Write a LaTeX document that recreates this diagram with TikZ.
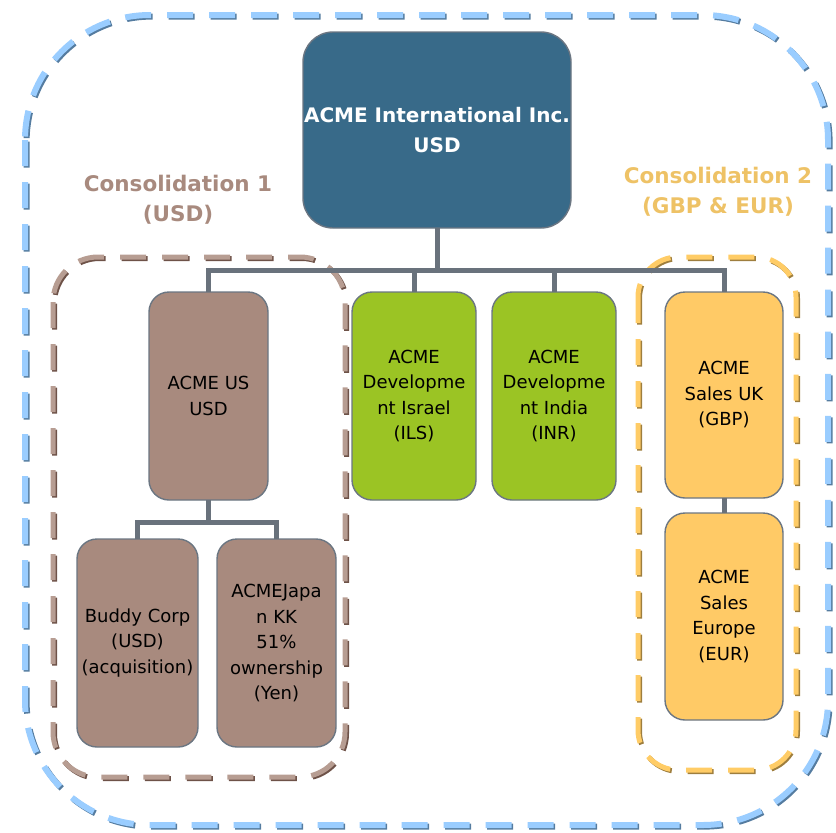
\documentclass[tikz,border=0pt]{standalone}
\usepackage{fontspec}
\setmainfont{DejaVu Sans}
\begin{document}
\begin{tikzpicture}[x=1pt,y=-1pt,
  box/.style={draw=boxline,line width=1.4pt,rounded corners=20pt,align=center,
    inner sep=0pt,outer sep=0pt,font=\fontsize{18}{25.5}\selectfont},
  brownbox/.style={box,fill=brownfill},
  greenbox/.style={box,fill=greenfill},
  orangebox/.style={box,fill=orangefill},
  conn/.style={draw=connline,line width=5pt},
  dashlight/.style={line width=#1,dash pattern=on 26pt off 16pt},
  constext/.style={font=\bfseries\fontsize{21.5}{30}\selectfont,align=center}
]
\definecolor{topfill}{HTML}{386A89}
\definecolor{brownfill}{HTML}{A88A7E}
\definecolor{greenfill}{HTML}{9BC424}
\definecolor{orangefill}{HTML}{FFCA66}
\definecolor{boxline}{HTML}{6B7682}
\definecolor{connline}{HTML}{69727C}
\definecolor{bluelight}{HTML}{9ACDFF}
\definecolor{bluedark}{HTML}{557CA0}
\definecolor{brownlight}{HTML}{B79D92}
\definecolor{browndark}{HTML}{6E5248}
\definecolor{orangelight}{HTML}{FFCC66}
\definecolor{orangedark}{HTML}{9E7E3E}
\definecolor{cons2}{HTML}{EEC266}

\useasboundingbox (0,0) rectangle (836,833);

% outer blue dashed region
\draw[dashlight=6pt,bluedark,rounded corners=125pt,shift={(1.6,1.6)}] (25,15) rectangle (828,825);
\draw[dashlight=6pt,bluelight,rounded corners=125pt] (25,15) rectangle (828,825);
% brown dashed region
\draw[dashlight=5pt,browndark,rounded corners=45pt,shift={(1.5,1.5)}] (53,257) rectangle (345,777);
\draw[dashlight=5pt,brownlight,rounded corners=45pt] (53,257) rectangle (345,777);
% orange dashed region
\draw[dashlight=5pt,orangedark,rounded corners=40pt,shift={(1.5,1.5)}] (638,257) rectangle (796,770);
\draw[dashlight=5pt,orangelight,rounded corners=40pt] (638,257) rectangle (796,770);

% labels
\node[constext,text=brownfill] (c1) at (178,200) {Consolidation 1\\(USD)};
\node[constext,text=cons2] (c2) at (718,192) {Consolidation 2\\(GBP \& EUR)};

% boxes
\node[box,fill=topfill,rounded corners=30pt,minimum width=268pt,minimum height=196pt,
  text=white,font=\bfseries\fontsize{20}{30}\selectfont] (top) at (437,130) {ACME International Inc.\\USD};
\node[brownbox,minimum width=119pt,minimum height=208pt] (us) at (208.5,396) {ACME US\\USD};
\node[greenbox,minimum width=124pt,minimum height=208pt] (isr) at (414,396) {ACME\\Developme\\nt Israel\\(ILS)};
\node[greenbox,minimum width=124pt,minimum height=208pt] (ind) at (554,396) {ACME\\Developme\\nt India\\(INR)};
\node[orangebox,minimum width=118pt,minimum height=206pt] (uk) at (724,395) {ACME\\Sales UK\\(GBP)};
\node[orangebox,minimum width=118pt,minimum height=207pt] (eu) at (724,616.5) {ACME\\Sales\\Europe\\(EUR)};
\node[brownbox,minimum width=121pt,minimum height=208pt] (buddy) at (137.5,643) {Buddy Corp\\(USD)\\(acquisition)};
\node[brownbox,minimum width=119pt,minimum height=208pt] (jp) at (276.5,643) {ACMEJapa\\n KK\\51\%\\ownership\\(Yen)};

% connectors
\coordinate (bus) at (437,270);
\coordinate (bus2) at (208.5,522);
\draw[conn] (top.south) -- (top.south |- bus);
\draw[conn] (us.north) -- (us.north |- bus) -- (uk.north |- bus) -- (uk.north);
\draw[conn] (isr.north) -- (isr.north |- bus);
\draw[conn] (ind.north) -- (ind.north |- bus);
\draw[conn] (uk.south) -- (eu.north);
\draw[conn] (us.south) -- (bus2);
\draw[conn] (buddy.north) -- (buddy.north |- bus2) -- (jp.north |- bus2) -- (jp.north);
\end{tikzpicture}
\end{document}
